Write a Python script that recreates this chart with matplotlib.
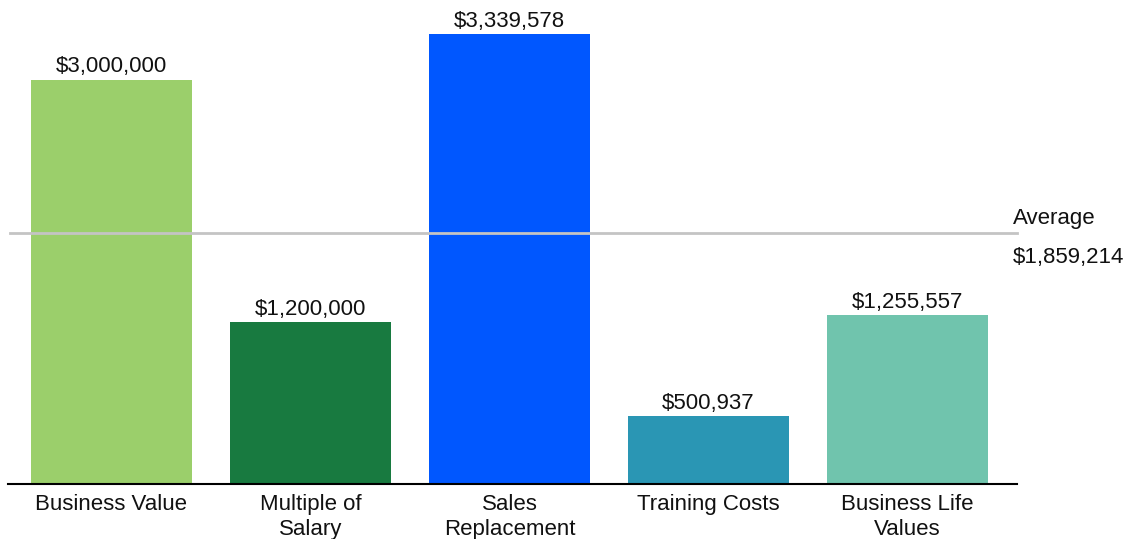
import matplotlib
matplotlib.use("Agg")
import matplotlib.pyplot as plt
import numpy as np

categories = ["Business Value", "Multiple of\nSalary", "Sales\nReplacement", "Training Costs", "Business Life\nValues"]
values = [3000000, 1200000, 3339578, 500937, 1255557]
colors = ["#9BCF6B", "#187A40", "#0057FF", "#2A96B4", "#70C4AD"]
average = 1859214

plt.rcParams['font.family'] = ['Liberation Sans', 'DejaVu Sans']
fs = 16

fig = plt.figure(figsize=(11.32, 5.39), dpi=100)
ax = fig.add_axes([8 / 1132, 55 / 539, 1009 / 1132, 484 / 539])

x = np.arange(len(values))
bars = ax.bar(x, values, width=0.81, color=colors)
for xi, v in zip(x, values):
    ax.annotate(f"${v:,.0f}", (xi, v), xytext=(0, 1.5), textcoords="offset points",
                ha="center", va="bottom", fontsize=fs, color="#111111")

ax.axhline(average, color="#C4C4C4", lw=2, xmin=0.002, xmax=1, clip_on=False)
label_x = (1013 - 8) / 1009
ax.annotate("Average", (label_x, average), xycoords=ax.get_yaxis_transform(),
            xytext=(0, 3), textcoords="offset points",
            ha="left", va="bottom", fontsize=fs, color="#111111")
ax.annotate(f"${average:,.0f}", (label_x, average), xycoords=ax.get_yaxis_transform(),
            xytext=(0, -9.5), textcoords="offset points",
            ha="left", va="top", fontsize=fs, color="#111111")

ax.set_xlim(-0.52, 4.55)
ax.set_ylim(0, 3590000)
ax.set_xticks(x)
ax.set_xticklabels(categories, fontsize=fs, color="#111111", linespacing=1.2)
ax.tick_params(axis="x", length=0, pad=7.5)
ax.set_yticks([])
for side in ["top", "right", "left"]:
    ax.spines[side].set_visible(False)
ax.spines["bottom"].set_linewidth(1.5)
ax.spines["bottom"].set_color("black")

fig.savefig("out.png", dpi=100)
